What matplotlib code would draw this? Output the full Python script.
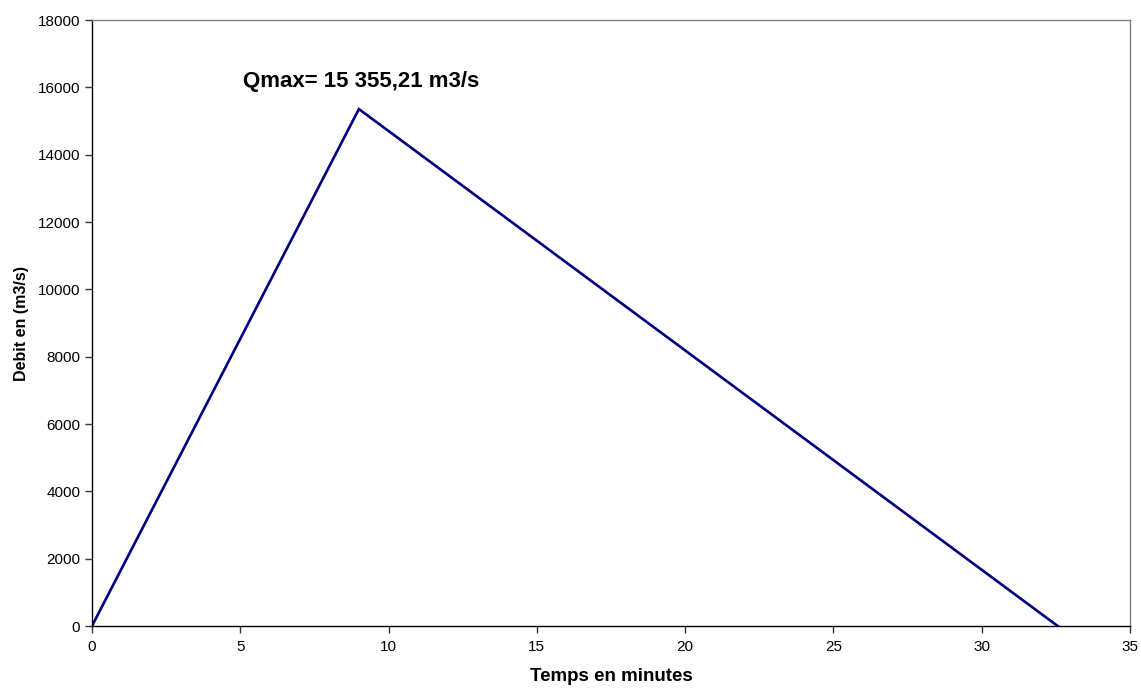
import matplotlib
matplotlib.use("Agg")
import matplotlib.pyplot as plt

# Triangular flood hydrograph
temps_min = [0.0, 9.0, 32.56]
debit_m3s = [0.0, 15355.21, 0.0]
qmax_label = "Qmax= 15 355,21 m3/s"

x_ticks = [0, 5, 10, 15, 20, 25, 30, 35]
y_ticks = list(range(0, 18001, 2000))

plt.rcParams['font.family'] = ['Liberation Sans', 'DejaVu Sans']

fig = plt.figure(figsize=(11.41, 6.88), dpi=100)
ax = fig.add_axes([0.0806, 0.0901, 0.9098, 0.8808])

ax.plot(temps_min, debit_m3s, color='#000080', linewidth=1.9, solid_joinstyle='miter')

ax.set_xlim(0, 35)
ax.set_ylim(0, 18000)
ax.set_xticks(x_ticks)
ax.set_yticks(y_ticks)
ax.tick_params(axis='both', direction='out', length=5, width=1, labelsize=11, color='#333333')
ax.tick_params(axis='x', pad=5)

for side in ('top', 'right'):
    ax.spines[side].set_color('#808080')
    ax.spines[side].set_linewidth(1)
for side in ('left', 'bottom'):
    ax.spines[side].set_color('#000000')
    ax.spines[side].set_linewidth(1)

ax.set_xlabel("Temps en minutes", fontsize=13.5, fontweight='bold', labelpad=10)
ax.set_ylabel("Debit en (m3/s)", fontsize=11.5, fontweight='bold', labelpad=6)

ax.text(5.1, 16000, qmax_label, fontsize=16, fontweight='bold', ha='left', va='baseline')

fig.savefig("out.png", dpi=100)
